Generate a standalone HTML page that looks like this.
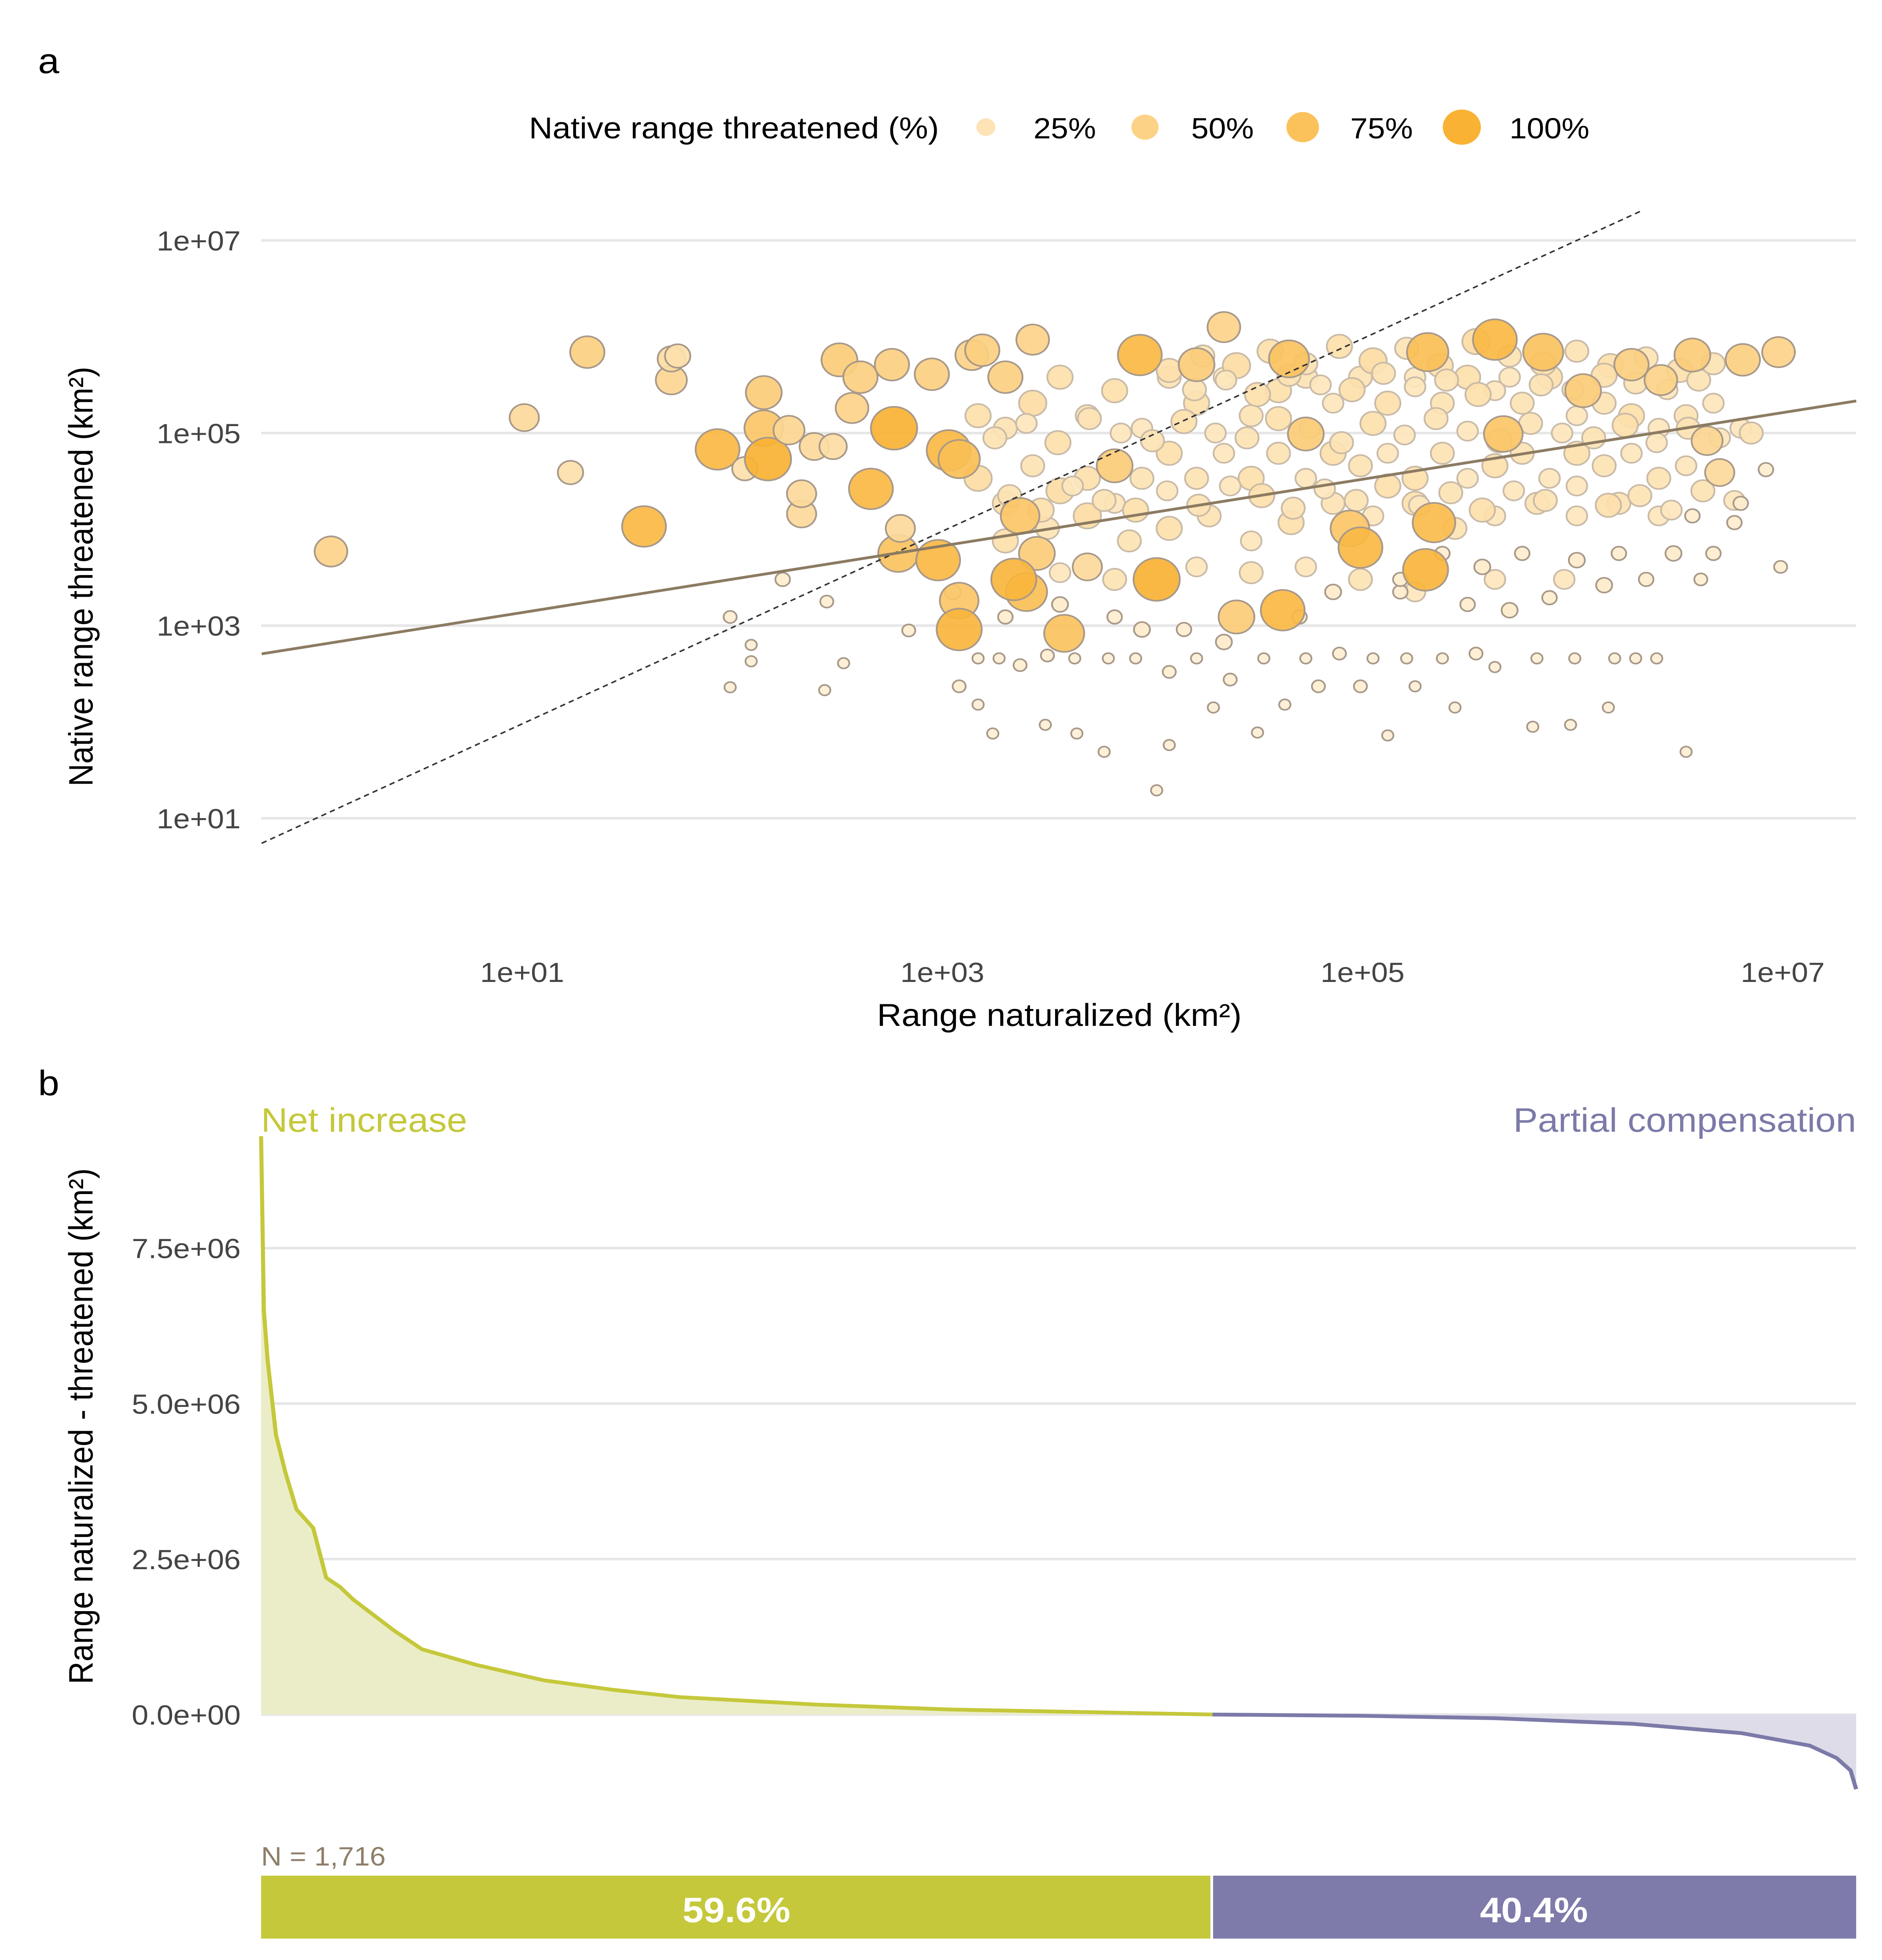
<!DOCTYPE html>
<html><head><meta charset="utf-8"><style>
html,body{margin:0;padding:0;background:#fff;width:100%;height:100%;overflow:hidden;}
svg{display:block;position:absolute;left:0;top:0;width:100vw;height:100vh;}
text{font-family:"Liberation Sans Narrow","Liberation Sans",sans-serif;}
</style></head><body>
<svg id="fig" xmlns="http://www.w3.org/2000/svg" viewBox="0 0 1384 1557" preserveAspectRatio="none">
<rect width="1384" height="1557" fill="#fff"/>
<text x="28" y="58" font-size="28" fill="#000">a</text>
<text x="28" y="870" font-size="28" fill="#000">b</text>
<g>
<text x="389" y="110" font-size="24" fill="#000">Native range threatened (%)</text>
<circle cx="725" cy="101" r="7" fill="#fde3b5"/>
<text x="760" y="110" font-size="23">25%</text>
<circle cx="842" cy="101" r="10" fill="#fcd386"/>
<text x="876" y="110" font-size="23">50%</text>
<circle cx="958" cy="101" r="12" fill="#fbc25c"/>
<text x="993" y="110" font-size="23">75%</text>
<circle cx="1075" cy="101" r="14" fill="#f9b233"/>
<text x="1110" y="110" font-size="23">100%</text>
</g>
<g id="pa"></g>
<g id="pb"></g>
</svg>
<script>
// ---------- Panel a data (log10 km²) ----------
const bigNat = [0.09,1.01,1.23,1.31,1.58,1.71,1.71,1.74,1.93,2.06,2.15,2.17,2.15,2.24,2.27,2.33,2.33,2.39,2.48,2.45,2.51,2.57,2.61,2.66,2.76,2.77,2.79,2.80,2.84,2.95,2.98,3.03,3.08,3.08,3.08,3.14,3.19,3.30,3.43,3.58,3.37,3.45,3.40,3.34,3.69,3.82,3.94,4.02,4.21,4.34,4.40,4.62,4.65,4.73,4.94,4.99,5.30,5.34,5.31,5.63,5.67,5.86,6.05,6.28,6.42,6.57,6.81,6.98,6.64,6.70];
const bigThr = [3.77,5.16,4.59,5.84,4.03,5.55,5.77,5.80,4.83,4.63,5.05,4.73,5.42,3.48,5.03,4.16,4.37,4.86,4.86,3.25,5.76,5.26,5.58,4.42,5.71,5.05,3.75,4.01,2.95,5.61,3.68,4.82,3.26,2.96,4.73,5.81,5.86,5.58,5.97,2.92,4.14,3.75,3.35,3.48,3.61,4.66,5.81,3.48,5.71,6.10,3.09,3.16,5.77,4.99,4.01,3.81,3.58,4.07,5.84,5.97,4.99,5.84,5.44,5.71,5.55,5.81,5.76,5.84,4.92,4.59];
const bigPct = [50,40,30,55,90,45,35,30,90,30,70,100,60,10,45,40,40,40,35,8,60,50,55,90,55,100,75,40,8,55,90,90,70,95,80,50,55,55,50,75,70,60,80,95,40,60,90,100,60,50,60,90,75,60,70,90,95,85,80,90,70,75,60,55,50,60,55,50,45,40];
const smallNat = [1.99,2.09,2.09,1.99,2.44,2.53,3.24,3.27,3.49,3.64,3.77,4.08,4.02,4.29,4.50,5.12,5.44,5.81,6.17,6.54,5.99,6.99,6.92,6.80,6.77,6.61,6.57,6.40,6.30,6.20,6.01,5.83,5.63,5.54,5.38,5.21,5.05,4.89,4.73,4.53,4.37,4.21,4.08,3.92,3.79,3.63,3.50,3.37,3.17,3.08,3.17,4.99,5.25,4.79,4.63,4.70,4.86,5.18,5.50,5.70,5.89,6.15,6.35,6.48,6.67,6.22,6.02,5.76,5.57,5.38,5.18,4.34,4.15,3.95,3.82,3.56,3.30,3.05];
const smallThr = [3.09,2.80,2.63,2.36,2.33,2.61,1.88,2.66,1.97,1.88,1.69,1.76,1.29,2.15,1.89,1.86,2.15,1.95,2.15,1.69,1.97,3.61,4.62,4.27,4.07,3.48,4.14,2.66,2.66,2.66,2.66,2.66,2.57,2.71,2.66,2.66,2.66,2.71,2.66,2.66,2.44,2.66,2.52,2.66,2.66,2.66,2.69,2.59,2.66,2.37,2.18,2.37,2.37,2.37,2.18,3.09,3.35,3.35,3.22,3.16,3.29,3.42,3.48,3.75,3.75,3.75,3.68,3.75,3.61,3.75,3.48,2.83,2.96,2.96,3.09,3.22,3.09,3.35];
const smallPct = [8,6,6,6,6,6,6,6,6,6,6,6,6,6,6,6,6,6,6,6,6,8,10,10,10,8,10,6,6,6,6,6,6,8,6,6,6,8,6,6,8,6,8,6,6,6,8,8,6,8,6,8,6,8,6,10,12,10,10,12,10,12,10,12,10,10,12,10,12,10,10,12,10,12,10,12,10,12];
const cloudNat = [3.17,3.30,3.43,3.56,3.69,3.82,3.95,4.08,4.21,4.34,4.47,4.60,4.73,4.86,4.99,5.12,5.25,5.38,5.50,5.63,5.76,5.89,6.02,6.15,6.28,6.41,6.54,6.67,6.80,
 3.17,3.30,3.43,3.56,3.69,3.82,3.95,4.08,4.21,4.34,4.47,4.60,4.73,4.86,4.99,5.12,5.25,5.38,5.50,5.63,5.76,5.89,6.02,6.15,6.28,6.41,6.54,
 3.30,3.50,3.69,3.89,4.08,4.27,4.47,4.66,4.86,5.05,5.25,5.44,5.63,5.83,6.02,6.22,6.41,
 3.56,3.82,4.21,4.47,4.73,4.99,5.25,5.63,5.96,
 4.08,4.24,4.40,4.56,4.73,4.89,5.05,5.21,5.37,5.54,5.70,5.86,6.02,6.18,6.35,6.51,6.67,
 3.25,3.40,3.55,3.70,3.85,4.00,4.15,4.30,4.45,4.60,4.75,4.90,5.05,5.20,5.35,5.50,5.65,5.80,5.95,6.10,6.25,6.40,6.55,6.70,6.85,
 3.32,3.47,3.62,3.77,3.92,4.07,4.22,4.37,4.52,4.67,4.82,4.97,5.12,5.27,5.42,5.57,5.72,5.87,6.02,6.17,6.32,6.47,6.62,6.77,
 4.20,4.35,4.50,4.65,4.80,4.95,5.10,5.25,5.40,5.55,5.70,5.85,6.00,6.15,6.30,6.45,6.60];
const cloudThr = [5.18,5.05,5.31,5.58,5.18,5.44,5.05,5.58,5.31,5.58,5.18,5.44,5.58,5.31,5.58,5.31,5.58,5.31,5.58,5.44,5.31,5.58,5.18,5.31,5.18,5.05,5.18,5.31,5.05,
 4.53,4.27,4.66,4.40,4.53,4.27,4.53,4.79,4.53,4.79,4.53,4.79,4.53,4.79,4.66,4.79,4.53,4.79,4.53,4.66,4.79,4.53,4.79,4.66,4.79,4.53,4.66,
 3.88,4.01,4.14,3.88,4.01,4.14,3.88,4.07,4.27,4.14,4.27,4.01,4.14,4.27,4.14,4.27,4.14,
 3.55,3.48,3.61,3.55,3.61,3.48,3.35,3.48,3.48,
 5.65,5.80,5.70,5.85,5.72,5.90,5.75,5.88,5.70,5.95,5.80,5.72,5.85,5.70,5.78,5.65,5.72,
 4.95,5.10,4.90,5.15,5.00,4.92,5.12,5.00,4.95,5.15,5.05,4.90,5.10,4.98,5.15,5.02,4.92,5.10,5.00,4.95,5.08,4.90,5.05,4.95,5.00,
 4.35,4.20,4.45,4.30,4.20,4.40,4.25,4.45,4.35,4.22,4.42,4.30,4.45,4.25,4.38,4.20,4.40,4.30,4.45,4.25,4.35,4.20,4.40,4.30,
 5.45,5.55,5.40,5.60,5.50,5.45,5.62,5.48,5.55,5.40,5.58,5.50,5.45,5.60,5.52,5.45,5.55];
const cloudPct = [30,25,35,30,25,30,20,25,30,20,25,30,25,20,25,30,20,25,30,20,25,30,20,25,30,20,25,20,20,
 35,30,25,35,30,20,25,30,25,20,30,25,20,30,25,20,30,25,20,30,25,20,30,25,20,25,20,
 30,25,35,25,30,25,20,30,25,20,30,25,20,25,20,25,20,
 20,25,20,25,20,25,20,20,20,
 30,25,35,30,25,30,35,25,30,35,25,30,25,30,25,30,25,
 25,20,30,25,20,25,30,20,25,30,20,25,30,20,25,20,30,25,20,25,30,20,25,20,25,
 25,30,20,25,30,20,25,20,30,25,20,25,30,20,25,30,20,25,20,30,25,20,25,20,
 25,20,30,25,20,30,25,20,25,30,20,25,20,30,25,20,25];
const xTickLog = [1,3,5,7];
const xTickLabels = ["1e+01","1e+03","1e+05","1e+07"];
const yTickLog = [1,3,5,7];
const yTickLabels = ["1e+01","1e+03","1e+05","1e+07"];
const fitIntercept = 2.79, fitSlope = 0.346;
const refOffset = 0.98;

// ---------- Panel b data ----------
const diffRank = [0,3,7,16,26,38,56,70,85,99,143,173,231,304,377,450,597,743,1023,1182,1328,1475,1592,1665,1694,1709,1715];
const diffValue = [9.3e6,6.5e6,5.7e6,4.5e6,3.9e6,3.3e6,3.0e6,2.2e6,2.05e6,1.85e6,1.35e6,1.05e6,0.8e6,0.55e6,0.4e6,0.28e6,0.16e6,0.08e6,0,-0.02e6,-0.06e6,-0.15e6,-0.3e6,-0.5e6,-0.7e6,-0.9e6,-1.2e6];
const nTotal = 1716;
const shareLabels = ["59.6%","40.4%"];
const shareValues = [59.6,40.4];
const bTickValues = [0,2.5e6,5e6,7.5e6];
const bTickLabels = ["0.0e+00","2.5e+06","5.0e+06","7.5e+06"];

const NS = "http://www.w3.org/2000/svg";
function mk(parent, tag, attrs){ const e=document.createElementNS(NS,tag); for(const k in attrs) e.setAttribute(k,attrs[k]); parent.appendChild(e); return e; }

const aL=192, aR=1365;
const xA = lx => 229.5 + lx*154.5;
const yA = ly => 191 + (7-ly)*76.5;
const pa = document.getElementById('pa');
yTickLog.forEach((v,i)=>{
  const g=mk(pa,'line',{x1:aL,x2:aR,y1:yA(v),y2:yA(v),stroke:'#e6e6e6','stroke-width':2});
  
  
  const t=mk(pa,'text',{x:177,y:yA(v)+8,'font-size':22,fill:'#444','text-anchor':'end'});
  t.textContent=yTickLabels[i];
  
  
});
xTickLog.forEach((v,i)=>{
  const t=mk(pa,'text',{x:xA(v),y:780,'font-size':22,fill:'#444','text-anchor':'middle'});
  t.textContent=xTickLabels[i];
  
  
});
function lerpColor(p){
  const a=[254,243,223], b=[249,178,51], t=Math.min(1,p/100);
  return 'rgb('+a.map((c,i)=>Math.round(c+(b[i]-c)*t)).join(',')+')';
}
function drawPts(nat,thr,pct,name,stroke){
  for(let i=0;i<nat.length;i++){
    const r=Math.max(3.5,17*Math.sqrt(pct[i]/100));
    const c=mk(pa,'circle',{cx:xA(nat[i]),cy:yA(thr[i]),r:r,fill:lerpColor(pct[i]),'fill-opacity':0.92,stroke:stroke,'stroke-width':1.3});
    
    
  }
}
drawPts(cloudNat,cloudThr,cloudPct,'species-point','#c9bba8');
drawPts(smallNat,smallThr,smallPct,'species-point','#a8998a');
drawPts(bigNat,bigThr,bigPct,'species-point','#a8998a');
const lx0=-0.24, lx1=7.35;
const ref=mk(pa,'line',{x1:xA(lx0),y1:yA(lx0+refOffset),x2:xA(7.30-refOffset),y2:yA(7.30),stroke:'#333','stroke-width':1.2,'stroke-dasharray':'4,3'});


const fit=mk(pa,'line',{x1:xA(lx0),y1:yA(fitIntercept+fitSlope*lx0),x2:xA(lx1),y2:yA(fitIntercept+fitSlope*lx1),stroke:'#8c7b62','stroke-width':2.2});


let t=mk(pa,'text',{x:779,y:815,'font-size':25,'text-anchor':'middle',fill:'#000'});
t.textContent='Range naturalized (km²)';


t=mk(pa,'text',{x:0,y:0,'font-size':25,'text-anchor':'middle',fill:'#000',transform:'translate(68,458) rotate(-90)'});
t.textContent='Native range threatened (km²)';



const pb=document.getElementById('pb');
const xB = r => 192 + r/(nTotal-1)*1173;
const yB = v => 1362 - v/2.5e6*123.5;
bTickValues.forEach((v,i)=>{
  const g=mk(pb,'line',{x1:aL,x2:aR,y1:yB(v),y2:yB(v),stroke:'#e6e6e6','stroke-width':2});
  
  
  const tt=mk(pb,'text',{x:177,y:yB(v)+8,'font-size':22,fill:'#444','text-anchor':'end'});
  tt.textContent=bTickLabels[i];
  
  
});
const split = diffValue.findIndex(v=>v<=0);
function seg(from,to,line,fill,name){
  let d='', a='M'+xB(diffRank[from])+','+yB(0);
  for(let i=from;i<=to;i++){ d+=(i===from?'M':'L')+xB(diffRank[i])+','+yB(diffValue[i]); a+='L'+xB(diffRank[i])+','+yB(diffValue[i]); }
  a+='L'+xB(diffRank[to])+','+yB(0)+'Z';
  const ar=mk(pb,'path',{d:a,fill:fill});
  
  
  const ln=mk(pb,'path',{d:d,fill:'none',stroke:line,'stroke-width':3});
  
  
}
seg(0,split,'#c5c83a','#ebedc8','net-increase');
seg(split,diffRank.length-1,'#7b7aa8','#dddce8','partial-compensation');
t=mk(pb,'text',{x:192,y:899,'font-size':27,fill:'#c5c83a'});
t.textContent='Net increase';


t=mk(pb,'text',{x:1365,y:899,'font-size':27,fill:'#7b7aa8','text-anchor':'end'});
t.textContent='Partial compensation';


t=mk(pb,'text',{x:0,y:0,'font-size':25,'text-anchor':'middle',fill:'#000',transform:'translate(68,1133) rotate(-90)'});
t.textContent='Range naturalized - threatened (km²)';


t=mk(pb,'text',{x:192,y:1482,'font-size':21,fill:'#8f7f69'});
t.textContent='N = '+nTotal.toLocaleString('en-US');


const bw=1173, w1=bw*shareValues[0]/100;
let r=mk(pb,'rect',{x:192,y:1490,width:w1-1,height:50,fill:'#c5c83a'});


r=mk(pb,'rect',{x:192+w1+1,y:1490,width:bw-w1-1,height:50,fill:'#7e7bab'});


t=mk(pb,'text',{x:192+w1/2,y:1527,'font-size':28,'font-weight':'bold',fill:'#fff','text-anchor':'middle'});
t.textContent=shareLabels[0];


t=mk(pb,'text',{x:192+w1+(bw-w1)/2,y:1527,'font-size':28,'font-weight':'bold',fill:'#fff','text-anchor':'middle'});
t.textContent=shareLabels[1];


</script>
</body></html>
